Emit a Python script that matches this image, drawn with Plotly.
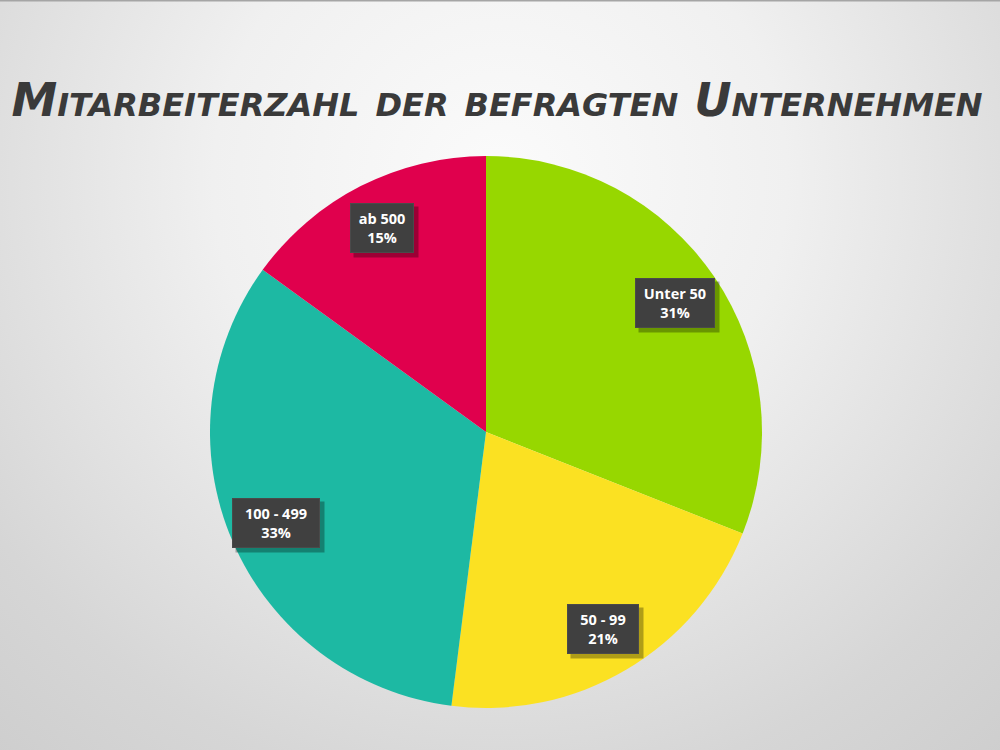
import math
import base64
import plotly.graph_objects as go

categories = ["Unter 50", "50 - 99", "100 - 499", "ab 500"]
values = [31, 21, 33, 15]
colors = ["#97D700", "#FBE122", "#1DB9A3", "#E0004D"]
title_text = "Mitarbeiterzahl der befragten Unternehmen"

W, H = 1000, 750
# pie geometry (pixels)
cx, cy, R = 486, 432, 276
label_r = 0.83
fsize = 14.5

dom_x = [(cx - R) / W, (cx + R) / W]
dom_y = [(H - cy - R) / H, (H - cy + R) / H]

fig = go.Figure()
fig.add_trace(go.Pie(
    labels=categories, values=values, sort=False, direction="clockwise",
    rotation=0, marker=dict(colors=colors, line=dict(width=0)),
    textinfo="none", hoverinfo="label+percent", showlegend=False,
    domain=dict(x=dom_x, y=dom_y),
))

# background gradient
svg = f'''<svg xmlns="http://www.w3.org/2000/svg" width="{W}" height="{H}" viewBox="0 0 {W} {H}">
<defs><radialGradient id="g" cx="500" cy="180" r="820" gradientUnits="userSpaceOnUse">
<stop offset="0" stop-color="#fbfbfb"/><stop offset="0.35" stop-color="#f0f0f0"/>
<stop offset="0.75" stop-color="#d6d6d6"/><stop offset="1" stop-color="#cbcbcb"/></radialGradient></defs>
<rect width="{W}" height="{H}" fill="url(#g)"/></svg>'''
src = "data:image/svg+xml;base64," + base64.b64encode(svg.encode()).decode()
fig.add_layout_image(dict(source=src, xref="paper", yref="paper", x=0, y=1,
                          sizex=1, sizey=1, sizing="stretch", layer="below",
                          xanchor="left", yanchor="top"))

# labels with dark boxes
total = sum(values)
cum = 0
for cat, v in zip(categories, values):
    mid = (cum + v / 2) / total * 2 * math.pi
    cum += v
    px = cx + label_r * R * math.sin(mid)
    py = cy - label_r * R * math.cos(mid)
    pct = f"{round(v / total * 100)}%"
    txt = f"<b>{cat}</b><br><b>{pct}</b>"
    bw = len(cat) * 8.0 + 6
    bh = 40
    # shadow (no text)
    fig.add_annotation(x=(px + 4) / W, y=(H - py - 4) / H, xref="paper", yref="paper",
                       xanchor="center", yanchor="middle",
                       text=" ", width=bw, height=bh, showarrow=False,
                       font=dict(size=fsize), bgcolor="rgba(0,0,0,0.3)", borderpad=5)
    fig.add_annotation(x=px / W, y=(H - py) / H, xref="paper", yref="paper",
                       xanchor="center", yanchor="middle", width=bw, height=bh,
                       text=txt, showarrow=False, align="center", valign="middle",
                       font=dict(family="Open Sans", size=fsize, color="white"),
                       bgcolor="#404040", bordercolor="#4a4a4a", borderwidth=1, borderpad=4)

# top edge line
fig.add_shape(type="line", xref="paper", yref="paper", x0=0, x1=1, y0=1, y1=1,
              line=dict(color="#a5a5a5", width=3))

fig.update_layout(
    width=W, height=H, margin=dict(l=0, r=0, t=0, b=0),
    paper_bgcolor="#e6e6e6", plot_bgcolor="rgba(0,0,0,0)",
    title=dict(text=f"<b><i>{title_text}</i></b>", x=0.497, xanchor="center",
               y=1 - 100 / H, yanchor="middle",
               font=dict(family="DejaVu Sans", size=46, color="#3a3a3a", variant="small-caps")),
)

fig.write_html("out.html")
